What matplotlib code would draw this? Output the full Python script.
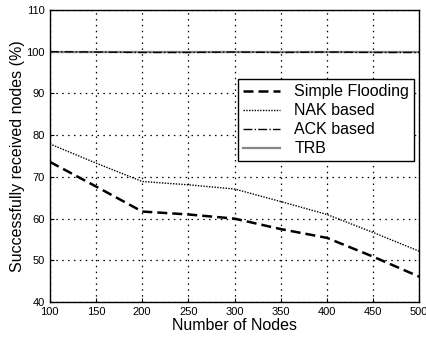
import numpy as np
import matplotlib
matplotlib.use("Agg")
from matplotlib import pyplot as plt

plt.rcParams["font.family"] = ["Liberation Sans", "DejaVu Sans"]

nodes = [100, 150, 200, 250, 300, 350, 400, 450, 500]
simple_flooding = [73.6, 67.7, 61.7, 61.0, 60.0, 57.5, 55.4, 50.9, 46.1]
nak_based = [77.9, 73.3, 68.9, 68.1, 67.1, 64.1, 61.0, 56.7, 52.2]
ack_based = [100.0, 99.9, 99.8, 99.8, 99.9, 99.8, 99.9, 99.8, 99.8]
trb = [100.0, 100.0, 100.0, 100.0, 100.0, 100.0, 100.0, 100.0, 100.0]

fig = plt.figure(figsize=(4.26, 3.41), dpi=100)
ax = fig.add_axes([0.117, 0.114, 0.867, 0.857])

ax.plot(nodes, trb, color="#888888", lw=1.6, ls="-", label="TRB")
ax.plot(nodes, ack_based, color="black", lw=1.0, ls="-.", label="ACK based")
ax.plot(nodes, simple_flooding, color="black", lw=1.8, ls=(0, (4, 2)), label="Simple Flooding")
ax.plot(nodes, nak_based, color="black", lw=1.0, ls=(0, (1, 1)), label="NAK based")

ax.set_xlim(100, 500)
ax.set_ylim(40, 110)
ax.set_xticks(np.arange(100, 501, 50))
ax.set_yticks(np.arange(40, 111, 10))
ax.grid(True, color="black", ls=(0, (1.2, 3.5)), lw=0.9)
ax.tick_params(direction="in", labelsize=8, length=3)
for s in ax.spines.values():
    s.set_linewidth(1.0)

ax.set_xlabel("Number of Nodes", fontsize=11.5, labelpad=1)
ax.set_ylabel("Successfully received nodes (%)", fontsize=11.5, labelpad=1)

handles, labels = ax.get_legend_handles_labels()
order = [2, 3, 1, 0]
leg = ax.legend([handles[i] for i in order], [labels[i] for i in order],
                loc="upper right", bbox_to_anchor=(0.986, 0.762),
                fontsize=11.5, frameon=True, fancybox=False,
                edgecolor="black", handlelength=2.3, borderpad=0.3,
                borderaxespad=0, labelspacing=0.25, handletextpad=0.9,
                framealpha=1)
leg.get_frame().set_linewidth(1.0)

fig.savefig("out.png", dpi=100)
